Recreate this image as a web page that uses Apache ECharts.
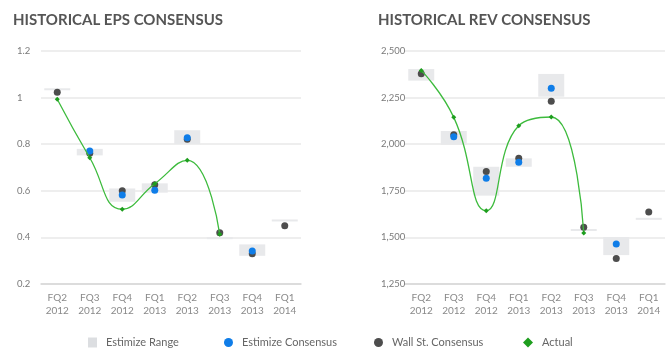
<!DOCTYPE html>
<html><head><meta charset="utf-8">
<script src="https://cdn.jsdelivr.net/npm/echarts@6/dist/echarts.min.js"></script>
<style>html,body{margin:0;padding:0;background:#fff}#c{width:670px;height:358px}</style>
</head><body><div id="c"></div>
<script>
var categories = ['FQ2\n2012','FQ3\n2012','FQ4\n2012','FQ1\n2013','FQ2\n2013','FQ3\n2013','FQ4\n2013','FQ1\n2014'];
// EPS
var epsRangeLow  = [1.032, 0.752, 0.553, 0.592, 0.80, 0.396, 0.321, 0.472];
var epsRangeHigh = [1.040, 0.780, 0.610, 0.632, 0.86, 0.401, 0.370, 0.477];
var epsEstimize  = [null, 0.771, 0.582, 0.602, 0.828, null, 0.342, null];
var epsWallSt    = [1.023, 0.761, 0.600, 0.626, 0.821, 0.420, 0.330, 0.450];
var epsActual    = [0.993, 0.742, 0.521, 0.630, 0.731, 0.413, null, null];
// REV
var revRangeLow  = [2341, 1998, 1724, 1879, 2255, 1538, 1405, 1600];
var revRangeHigh = [2403, 2071, 1879, 1924, 2377, 1545, 1502, 1605];
var revEstimize  = [null, 2040, 1817, 1903, 2300, null, 1464, null];
var revWallSt    = [2378, 2051, 1853, 1924, 2230, 1554, 1387, 1636];
var revActual    = [2396, 2144, 1643, 2099, 2146, 1524, null, null];
var epsTicks = {min: 0.2, max: 1.2, interval: 0.2};
var revTicks = {min: 1250, max: 2500, interval: 250};

var C_RANGE = '#e8e9eb', C_EST = '#0f7de8', C_WALL = '#4d4d4d', C_ACT = '#1e9e1e', C_LINE = '#3dbb3d';

function rangeData(lo, hi){ return lo.map(function(v,i){ return [i, v, hi[i]]; }); }
function renderRange(params, api){
  var i = api.value(0);
  var top = api.coord([i, api.value(2)]);
  var bot = api.coord([i, api.value(1)]);
  var w = 26;
  var h = Math.max(bot[1]-top[1], 2);
  return {type:'rect', shape:{x: top[0]-w/2, y: top[1], width: w, height: h}, style:{fill: C_RANGE}};
}
var font = 'Lato, "Open Sans", sans-serif';
function xAxis(idx){
  return {type:'category', gridIndex: idx, data: categories, boundaryGap: true,
    axisLine:{show:true, lineStyle:{color:'#d6d6d6', width:1.5}}, axisTick:{show:false},
    axisLabel:{color:'#8a8a8a', fontSize:10, fontFamily: font, lineHeight:13, margin:7}};
}
function yAxis(idx, t, fmt){
  return {type:'value', gridIndex: idx, min:t.min, max:t.max, interval:t.interval,
    axisLine:{show:false}, axisTick:{show:false},
    splitLine:{lineStyle:{color:'#e8e8e8', width:1.5}},
    axisLabel:{color:'#7a7a7a', fontSize:9.5, fontFamily: font, align:'left', margin:24, formatter: fmt}};
}
function seriesFor(idx, lo, hi, est, wall, act){
  return [
    {name:'Estimize Range', type:'custom', xAxisIndex:idx, yAxisIndex:idx, renderItem: renderRange, data: rangeData(lo,hi), itemStyle:{color:'#dcdee1'}, z:1},
    {name:'Wall St. Consensus', type:'scatter', xAxisIndex:idx, yAxisIndex:idx, data: wall, symbolSize:7, itemStyle:{color:C_WALL, opacity:1}, z:3},
    {name:'Estimize Consensus', type:'scatter', xAxisIndex:idx, yAxisIndex:idx, data: est, symbolSize:7, itemStyle:{color:C_EST, opacity:1}, z:4},
    {name:'Actual', type:'line', xAxisIndex:idx, yAxisIndex:idx, data: act, smooth:true, symbol:'diamond', symbolSize:5, showSymbol:true,
      lineStyle:{color:C_LINE, width:1.3}, itemStyle:{color:C_ACT}, z:5}
  ];
}
function legend(name, left, icon, w, h){
  return {data:[{name:name, icon:icon}], left:left, top:332, itemWidth:w, itemHeight:h, selectedMode:false,
    textStyle:{color:'#666', fontSize:11, fontFamily: font, padding:[0,0,0,4]}};
}
var chart = echarts.init(document.getElementById('c'), null, {renderer:'canvas'});
chart.setOption({
  animation:false,
  title:[
    {text:'HISTORICAL EPS CONSENSUS', left:8, top:8, textStyle:{color:'#555', fontSize:15, fontWeight:'bold', fontFamily: font}},
    {text:'HISTORICAL REV CONSENSUS', left:373, top:8, textStyle:{color:'#555', fontSize:15, fontWeight:'bold', fontFamily: font}}
  ],
  grid:[
    {left:41, right:369, top:51, bottom:74},
    {left:405, right:5, top:51, bottom:74}
  ],
  xAxis:[xAxis(0), xAxis(1)],
  yAxis:[
    yAxis(0, epsTicks, function(v){ return String(Math.round(v*10)/10); }),
    yAxis(1, revTicks, function(v){ return v.toLocaleString('en-US'); })
  ],
  legend:[
    legend('Estimize Range', 83, 'rect', 9, 10),
    legend('Estimize Consensus', 219, 'circle', 9, 9),
    legend('Wall St. Consensus', 369, 'circle', 9, 9),
    legend('Actual', 518, 'diamond', 10, 10)
  ],
  series: seriesFor(0, epsRangeLow, epsRangeHigh, epsEstimize, epsWallSt, epsActual)
    .concat(seriesFor(1, revRangeLow, revRangeHigh, revEstimize, revWallSt, revActual))
});
</script></body></html>
